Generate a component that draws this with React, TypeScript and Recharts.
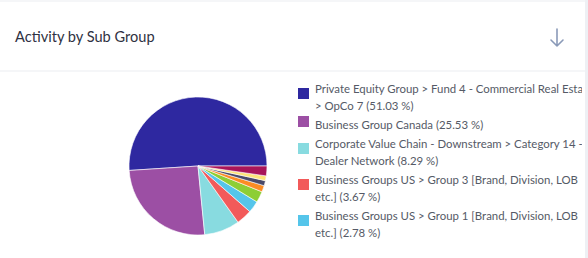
import { PieChart, Pie, Cell } from "recharts";

const groups = [
  "Private Equity Group > Fund 4 - Commercial Real Estate > OpCo 7",
  "Business Group Canada",
  "Corporate Value Chain - Downstream > Category 14 - Dealer Network",
  "Business Groups US > Group 3 [Brand, Division, LOB etc.]",
  "Business Groups US > Group 1 [Brand, Division, LOB etc.]",
  "Business Groups US > Group 2",
  "Business Group EMEA",
  "Business Group APAC",
  "Corporate Functions",
  "Other",
];
const shares = [51.03, 25.53, 8.29, 3.67, 2.78, 2.6, 1.5, 1.2, 1.1, 2.3];
const colors = [
  "#2e28a0",
  "#9c4fa4",
  "#88dbe0",
  "#f25a5a",
  "#55c5ea",
  "#8dce35",
  "#fb8c24",
  "#4a4a6a",
  "#fde37a",
  "#a8155a",
];

// only the first five fit in the visible legend box
const visibleLegend = 5;

const data = groups.map((name, i) => ({ name, value: shares[i] }));

export default function App() {
  return (
    <div
      style={{
        position: "relative",
        width: 588,
        height: 258,
        background: "#fff",
        overflow: "hidden",
        fontFamily: "Lato, 'Open Sans', sans-serif",
      }}
    >
      <style>{"body{margin:0}"}</style>
      {/* top strip, divider, right border */}
      <div style={{ position: "absolute", left: 0, top: 0, width: 588, height: 2, background: "#f5f6f8" }} />
      <div style={{ position: "absolute", left: 0, top: 70, width: 588, height: 2, background: "#f5f6f8" }} />
      <div style={{ position: "absolute", left: 585, top: 0, width: 3, height: 258, background: "#eef0f4" }} />

      <div
        style={{
          position: "absolute",
          left: 15,
          top: 28,
          fontSize: 14.6,
          color: "#2f3242",
        }}
      >
        Activity by Sub Group
      </div>
      <svg style={{ position: "absolute", left: 549, top: 28 }} width={16} height={20}>
        <path
          d="M8 1 V18 M2 12 L8 18 L14 12"
          fill="none"
          stroke="#8a9ab8"
          strokeWidth={1.6}
          strokeLinecap="round"
          strokeLinejoin="round"
        />
      </svg>

      <div style={{ position: "absolute", left: 0, top: 71 }}>
        <PieChart width={290} height={187}>
          <Pie
            data={data}
            dataKey="value"
            nameKey="name"
            cx={193}
            cy={90}
            outerRadius={69}
            startAngle={0}
            endAngle={360}
            stroke="#fff"
            strokeWidth={0.6}
            isAnimationActive={false}
          >
            {data.map((d, i) => (
              <Cell key={d.name} fill={colors[i]} />
            ))}
          </Pie>
        </PieChart>
      </div>

      <div
        style={{
          position: "absolute",
          left: 298,
          top: 80,
          width: 284,
          height: 178,
          overflow: "hidden",
        }}
      >
        <div style={{ width: 300 }}>
          {data.slice(0, visibleLegend).map((d, i) => (
            <div
              key={d.name}
              style={{ display: "flex", alignItems: "center", marginBottom: 2 }}
            >
              <div
                style={{
                  width: 11,
                  height: 11,
                  background: colors[i],
                  flex: "none",
                  marginRight: 6,
                  marginTop: -7,
                }}
              />
              <div style={{ fontSize: 11.4, lineHeight: "17px", color: "#555a66", width: 281 }}>
                {d.name} ({d.value.toFixed(2)} %)
              </div>
            </div>
          ))}
        </div>
      </div>
    </div>
  );
}
